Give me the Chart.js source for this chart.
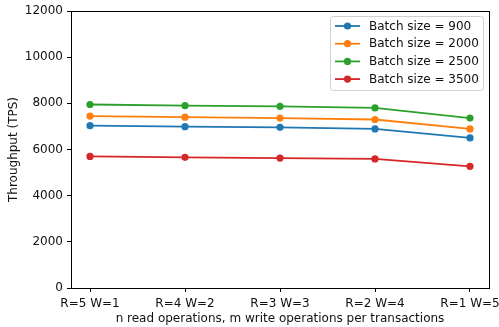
<!DOCTYPE html>
<html>
<head>
<meta charset="utf-8">
<script src="https://cdn.jsdelivr.net/npm/chart.js@4"></script>
<style>
  html, body { margin: 0; padding: 0; background: #fff; }
  #wrap { width: 499px; height: 327px; }
</style>
</head>
<body>
<div id="wrap"><canvas id="chart" width="499" height="327"></canvas></div>
<script>
// data
const categories = ["R=5 W=1", "R=4 W=2", "R=3 W=3", "R=2 W=4", "R=1 W=5"];
const seriesNames = ["Batch size = 900", "Batch size = 2000", "Batch size = 2500", "Batch size = 3500"];
const batch900  = [7030, 6990, 6960, 6890, 6500];
const batch2000 = [7450, 7400, 7360, 7300, 6890];
const batch2500 = [7950, 7900, 7870, 7800, 7360];
const batch3500 = [5700, 5660, 5630, 5590, 5270];
const yTicks = [0, 2000, 4000, 6000, 8000, 10000, 12000];

const colors = ["#1f77b4", "#ff7f0e", "#2ca02c", "#d62728"];
const allSeries = [batch900, batch2000, batch2500, batch3500];
const FONT = "'DejaVu Sans', sans-serif";
const FS = 12;

const datasets = allSeries.map((vals, k) => ({
  label: seriesNames[k],
  data: vals.map((v, i) => ({ x: i, y: v })),
  borderColor: colors[k],
  backgroundColor: colors[k],
  borderWidth: 1.8,
  pointRadius: 3.6,
  pointHoverRadius: 3.6,
  pointBorderWidth: 0,
  tension: 0
}));

// box around the plot + legend in the upper right, matplotlib style
const boxAndLegend = {
  id: "boxAndLegend",
  afterDraw(chart) {
    const ctx = chart.ctx, a = chart.chartArea;
    ctx.save();
    ctx.strokeStyle = "#000";
    ctx.lineWidth = 1;
    ctx.strokeRect(Math.round(a.left) + 0.5, Math.round(a.top) + 0.5,
                   Math.round(a.right - a.left), Math.round(a.bottom - a.top));

    const bx = a.right - 159, by = a.top + 5, bw = 153, bh = 74;
    ctx.beginPath();
    if (ctx.roundRect) ctx.roundRect(bx + 0.5, by + 0.5, bw, bh, 3);
    else ctx.rect(bx + 0.5, by + 0.5, bw, bh);
    ctx.fillStyle = "rgba(255,255,255,0.8)";
    ctx.fill();
    ctx.strokeStyle = "#d0d0d0";
    ctx.stroke();

    ctx.font = FS + "px " + FONT;
    ctx.textBaseline = "middle";
    chart.data.datasets.forEach((ds, k) => {
      const y = by + 10 + k * 17.7;
      ctx.strokeStyle = ds.borderColor;
      ctx.lineWidth = 1.8;
      ctx.beginPath();
      ctx.moveTo(bx + 5, y);
      ctx.lineTo(bx + 30, y);
      ctx.stroke();
      ctx.fillStyle = ds.borderColor;
      ctx.beginPath();
      ctx.arc(bx + 17.5, y, 3.6, 0, Math.PI * 2);
      ctx.fill();
      ctx.fillStyle = "#111";
      ctx.fillText(ds.label, bx + 39, y + 0.5);
    });
    ctx.restore();
  }
};

new Chart(document.getElementById("chart"), {
  type: "line",
  data: { datasets: datasets },
  options: {
    responsive: false,
    animation: false,
    events: [],
    layout: { padding: { left: 0, right: 10, top: 11, bottom: 0 } },
    plugins: { legend: { display: false }, tooltip: { enabled: false } },
    scales: {
      x: {
        type: "linear",
        min: -0.2,
        max: 4.2,
        afterBuildTicks: s => { s.ticks = categories.map((c, i) => ({ value: i })); },
        afterFit: s => { s.height = 39; s.paddingLeft = 0; s.paddingRight = 0; },
        border: { display: false },
        grid: { drawOnChartArea: false, drawTicks: true, tickLength: 4, color: "#000", lineWidth: 1 },
        ticks: {
          callback: v => categories[v],
          color: "#111",
          font: { family: FONT, size: FS },
          padding: 5,
          maxRotation: 0,
          autoSkip: false
        },
        title: {
          display: true,
          text: "n read operations, m write operations per transactions",
          color: "#111",
          font: { family: FONT, size: FS },
          padding: { top: 0, bottom: 1 }
        }
      },
      y: {
        min: 0,
        max: 12000,
        afterBuildTicks: s => { s.ticks = yTicks.map(v => ({ value: v })); },
        afterFit: s => { s.width = 71; s.paddingTop = 0; s.paddingBottom = 0; },
        border: { display: false },
        grid: { drawOnChartArea: false, drawTicks: true, tickLength: 4, color: "#000", lineWidth: 1 },
        ticks: {
          callback: v => String(v),
          color: "#111",
          font: { family: FONT, size: FS },
          padding: 4
        },
        title: {
          display: true,
          text: "Throughput (TPS)",
          color: "#111",
          font: { family: FONT, size: FS },
          padding: { top: 7, bottom: 0 }
        }
      }
    }
  },
  plugins: [boxAndLegend]
});
</script>
</body>
</html>
